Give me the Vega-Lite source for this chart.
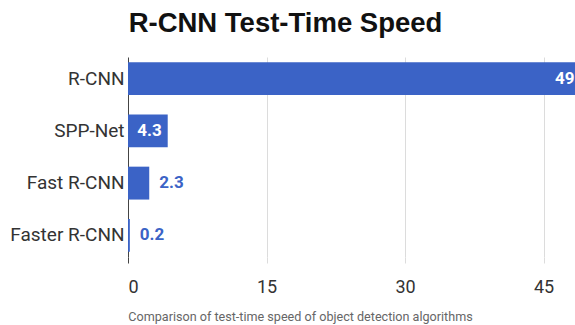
{
  "$schema": "https://vega.github.io/schema/vega-lite/v6.json",
  "width": 447,
  "height": 200,
  "autosize": {"type": "none"},
  "padding": {"left": 128, "top": 57, "right": 0, "bottom": 68},
  "background": "white",
  "title": {
    "text": "R-CNN Test-Time Speed",
    "font": "Liberation Sans",
    "fontSize": 27.5,
    "fontWeight": "bold",
    "color": "#111",
    "anchor": "middle",
    "dx": -66,
    "offset": 20
  },
  "data": {
    "values": [
      {"model": "R-CNN", "speed": 49},
      {"model": "SPP-Net", "speed": 4.3},
      {"model": "Fast R-CNN", "speed": 2.3},
      {"model": "Faster R-CNN", "speed": 0.2}
    ]
  },
  "config": {"view": {"stroke": null}},
  "encoding": {
    "y": {
      "field": "model",
      "type": "nominal",
      "sort": null,
      "scale": {"paddingInner": 0.37, "paddingOuter": 0.1},
      "axis": {
        "title": null,
        "domain": false,
        "ticks": false,
        "labelFont": "Roboto",
        "labelFontSize": 19,
        "labelColor": "#333",
        "labelPadding": 4
      }
    },
    "x": {
      "field": "speed",
      "type": "quantitative",
      "scale": {"domain": [0, 48.4], "nice": false, "zero": true},
      "axis": {
        "values": [0, 15, 30, 45],
        "title": "Comparison of test-time speed of object detection algorithms",
        "titleFont": "Roboto",
        "titleFontSize": 12.6,
        "titleFontWeight": "normal",
        "titleColor": "#666",
        "titleX": 172,
        "titleY": 59,
        "titleAlign": "center",
        "titleBaseline": "middle",
        "domain": false,
        "grid": true,
        "gridColor": {"condition": {"test": "datum.value === 0", "value": "#444"}, "value": "#dcdcdc"},
        "tickColor": {"condition": {"test": "datum.value === 0", "value": "#444"}, "value": "#dcdcdc"},
        "tickSize": 6,
        "labelFont": "Roboto",
        "labelFontSize": 18,
        "labelColor": "#333",
        "labelPadding": 15
      }
    }
  },
  "layer": [
    {
      "mark": {"type": "bar", "color": "#3b63c6", "clip": true}
    },
    {
      "transform": [{"filter": "datum.speed >= 4"}],
      "mark": {"type": "text", "align": "right", "dx": -6, "font": "Roboto", "fontSize": 17, "fontWeight": "bold", "color": "white"},
      "encoding": {"text": {"field": "speed", "type": "quantitative"}}
    },
    {
      "transform": [{"filter": "datum.speed < 4"}],
      "mark": {"type": "text", "align": "left", "dx": 10, "font": "Roboto", "fontSize": 17, "fontWeight": "bold", "color": "#3b63c6"},
      "encoding": {"text": {"field": "speed", "type": "quantitative"}}
    }
  ]
}
